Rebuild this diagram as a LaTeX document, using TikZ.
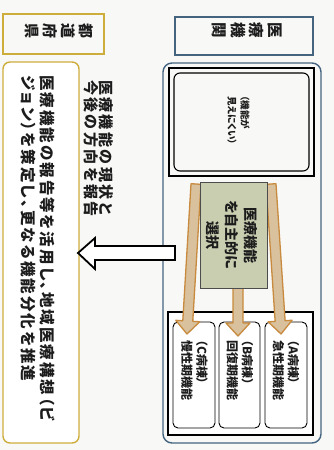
\documentclass[tikz,border=0pt]{standalone}
\usepackage{fontspec}
\usetikzlibrary{calc}
\newfontfamily\jp[RawFeature=+palt]{Noto Sans CJK JP}
\newfontfamily\jpw[LetterSpace=13, RawFeature=+palt]{Noto Sans CJK JP}
\newfontfamily\jpr[LetterSpace=16]{Noto Sans CJK JP}
\definecolor{gold}{HTML}{CDAE3C}
\definecolor{bluegrey}{HTML}{44647F}
\definecolor{greenfill}{HTML}{C9CEB1}
\definecolor{orline}{HTML}{C88A3E}
\definecolor{orfill}{HTML}{D8C19C}
\definecolor{ink}{HTML}{1C1C1C}
\definecolor{paper}{HTML}{F8F8F6}
\tikzset{
  vtext/.style={rotate=-90, inner sep=0pt, text=ink, font=\jp\bfseries},
  goldbox/.style={draw=gold, line width=1.4pt},
  bluebox/.style={draw=bluegrey, line width=1.4pt},
  wardbox/.style={draw=black, line width=0.9pt, rounded corners=5pt, fill=white},
  orarrow/.style={fill=orfill, draw=orline, line width=1.3pt, line join=round},
}
\newcommand{\fatarrow}[3]{% tail, tip, name of head base
  \coordinate (#3) at ($(#2)!13pt!(#1)$);
  \path[orarrow] ($(#1)!5pt!90:(#2)$) -- ($(#3)!5pt!90:(#2)$) -- ($(#3)!12pt!90:(#2)$) -- (#2)
     -- ($(#3)!12pt!-90:(#2)$) -- ($(#3)!5pt!-90:(#2)$) -- ($(#1)!5pt!-90:(#2)$) -- cycle;
}
\begin{document}
\begin{tikzpicture}[x=1pt,y=-1pt]
\path[fill=paper] (0,0) rectangle (334,450);
\useasboundingbox (0,0) rectangle (334,450);

% headers
\draw[goldbox] (3,14) rectangle (104,54);
\node[vtext, align=center, font=\jp\bfseries\fontsize{15}{18}\selectfont] (pref) at (59,31) {都\\道\\府\\県};
\draw[bluebox] (175,17) rectangle (313,55);
\node[vtext, align=center, font=\jp\bfseries\fontsize{15.5}{18.5}\selectfont] (inst) at (247,30) {医\\療\\機\\関};

% prefecture box
\draw[goldbox, rounded corners=7pt, fill=white] (3,62) rectangle (79,443);
\node[vtext, anchor=west, align=left, font=\jpw\bfseries\fontsize{15.5}{18.5}\selectfont] (plan) at (38,75)
  {医療機能の報告等を活用し、地域医療構想（ビ\\ジョン）を策定し、更なる機能分化を推進};

% report text
\node[vtext, anchor=west, align=left, font=\jpr\bfseries\fontsize{15}{15.5}\selectfont] (report) at (98.5,80)
  {医療機能の現状と\\今後の方向を報告};

% institution container
\draw[bluebox, rounded corners=9pt] (163,63) rectangle (321,443);

% upper box
\draw[black, line width=2.2pt] (169,68) rectangle (314,176);
\draw[black, line width=1.1pt, rounded corners=6pt] (174,73) rectangle (309,171);
\node[vtext, anchor=west, align=left, font=\jp\bfseries\fontsize{9.5}{13}\selectfont] (unclear) at (238.5,96)
  {（機能が\\見えにくい）};

% lower container
\draw[black, line width=1.3pt, fill=white] (168,312) rectangle (313,435);
\draw[wardbox] (173,322) rectangle (215,428);
\draw[wardbox] (219,322) rectangle (260,428);
\draw[wardbox] (265,322) rectangle (307,428);
\node[vtext, anchor=west, align=left, font=\jp\bfseries\fontsize{12}{15}\selectfont] (wardA) at (286,340)
  {（A病棟）\\急性期機能};
\node[vtext, anchor=west, align=left, font=\jp\bfseries\fontsize{12}{15}\selectfont] (wardB) at (240,340)
  {（B病棟）\\回復期機能};
\node[vtext, anchor=west, align=left, font=\jp\bfseries\fontsize{12}{15}\selectfont] (wardC) at (194.5,340)
  {（C病棟）\\慢性期機能};

% orange arrows
\coordinate (ltail) at (196,184);
\coordinate (ltip) at (187,334);
\coordinate (mtail) at (238,286);
\coordinate (mtip) at (238,336);
\coordinate (rtail) at (271,184);
\coordinate (rtip) at (281,334);
\fatarrow{ltail}{ltip}{lhead}
\fatarrow{mtail}{mtip}{mhead}
\fatarrow{rtail}{rtip}{rhead}

% choice box
\draw[draw=black!70, line width=0.8pt, fill=greenfill] (200,182) rectangle (267,288);
\node[vtext, align=center, font=\jp\bfseries\fontsize{14}{19}\selectfont] (choice) at (232,235)
  {医療機能\\を自主的に\\選択};

% hollow report arrow
\draw[black, line width=1.8pt, fill=white, line join=miter]
  (78,253) -- (95,238) -- (95,246) -- (175,246) -- (175,260) -- (95,260) -- (95,269) -- cycle;
\end{tikzpicture}
\end{document}
